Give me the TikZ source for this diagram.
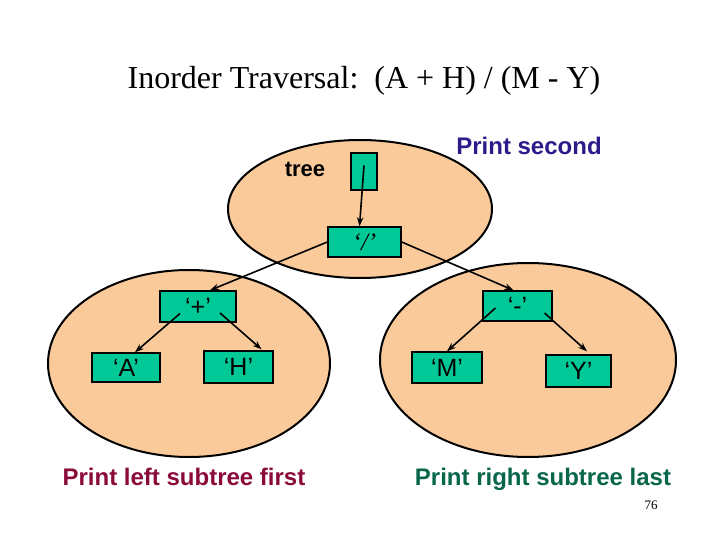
\documentclass[tikz,border=0pt]{standalone}
\usepackage{fontspec}
\usetikzlibrary{arrows.meta}
\setmainfont{Liberation Serif}
\setsansfont{Liberation Sans}
\definecolor{peach}{HTML}{FACA9A}
\definecolor{cellgreen}{HTML}{00C896}
\definecolor{printblue}{HTML}{2E1A8A}
\definecolor{printred}{HTML}{8A0A3A}
\definecolor{printgreen}{HTML}{08664A}
\tikzset{
  cell/.style={draw, fill=cellgreen, line width=1.4pt, inner sep=0pt,
    font=\sffamily\fontsize{25}{28}\selectfont},
  link/.style={->, line width=1.6pt},
  hint/.style={anchor=base, font=\sffamily\bfseries\fontsize{24}{28}\selectfont},
}
\begin{document}
\begin{tikzpicture}[x=1pt, y=-1pt, >={Stealth[length=9pt, width=6.5pt]}]
  \useasboundingbox (0,0) rectangle (720,540);

  % Title
  \node[anchor=base, font=\fontsize{32}{36}\selectfont] (title) at (364,89)
    {Inorder Traversal:\ \ (A + H) / (M - Y)};

  % Subtrees
  \fill[peach] (360,209) ellipse [x radius=132pt, y radius=69pt];
  \fill[peach] (189,363.5) ellipse [x radius=141pt, y radius=93.5pt];
  \fill[peach] (528,360) ellipse [x radius=148pt, y radius=97pt];
  \draw[line width=2pt] (360,209) ellipse [x radius=132pt, y radius=69pt];
  \draw[line width=2pt] (189,363.5) ellipse [x radius=141pt, y radius=93.5pt];
  \draw[line width=2pt] (528,360) ellipse [x radius=148pt, y radius=97pt];

  % Pointer and root
  \node[cell, minimum width=26pt, minimum height=37pt] (ptr) at (364,171.5) {};
  \node[anchor=base, font=\sffamily\bfseries\fontsize{22}{26}\selectfont] (tree) at (305,177) {tree};
  \node[cell, minimum width=73pt, minimum height=30pt, font=\rmfamily\itshape\fontsize{25}{28}\selectfont] (slash) at (364.5,242) {`/'};

  % Left subtree
  \node[cell, minimum width=76pt, minimum height=31pt] (plus) at (198,306.5) {`+'};
  \node[cell, minimum width=68pt, minimum height=29pt] (A) at (126,367.5) {`A'};
  \node[cell, minimum width=69pt, minimum height=32pt] (H) at (238.5,367) {`H'};

  % Right subtree
  \node[cell, minimum width=69pt, minimum height=30pt] (minus) at (517.5,306) {`-'};
  \node[cell, minimum width=70pt, minimum height=31pt] (M) at (447,367.5) {`M'};
  \node[cell, minimum width=65pt, minimum height=32pt] (Y) at (578.5,371) {`Y'};

  % Links
  \draw[link] ([yshift=6pt]ptr.center) -- ([xshift=-5pt]slash.north);
  \draw[link] (slash.west) -- ([xshift=12pt]plus.north);
  \draw[link] (slash.east) -- ([xshift=-4pt]minus.north);
  \draw[link] ([xshift=-18pt,yshift=-7pt]plus.center) -- ([xshift=9pt]A.north);
  \draw[link] ([xshift=22pt,yshift=-6.5pt]plus.center) -- ([xshift=23pt,yshift=1pt]H.north);
  \draw[link] ([xshift=-22pt,yshift=-2pt]minus.center) -- (M.north);
  \draw[link] ([xshift=27pt,yshift=-7pt]minus.center) -- ([xshift=8.5pt,yshift=3pt]Y.north);

  % Captions
  \node[hint, text=printblue] (second) at (529,155) {Print second};
  \node[hint, text=printred] (first) at (184,485) {Print left subtree first};
  \node[hint, text=printgreen] (last) at (543,485) {Print right subtree last};
  \node[anchor=base, font=\fontsize{13}{15}\selectfont] (page) at (651,509) {76};
\end{tikzpicture}
\end{document}
